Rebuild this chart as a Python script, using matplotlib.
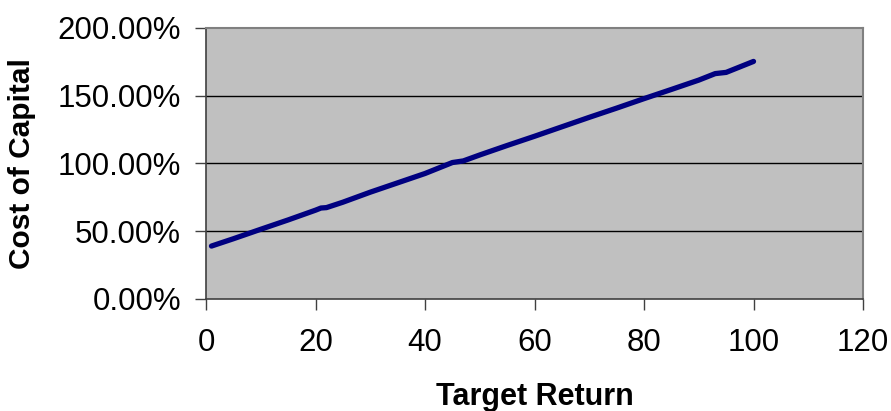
import numpy as np
import matplotlib.pyplot as plt
from matplotlib.ticker import FuncFormatter

# target return vs cost of capital (%)
target_return = [1, 5, 10, 15, 20, 21, 22, 25, 30, 35, 40, 45, 47, 50, 55,
                 60, 65, 70, 75, 80, 85, 90, 93, 95, 100]
cost_of_capital = [38.9, 44.3, 51.3, 58.2, 65.4, 67.0, 67.3, 71.3, 78.7, 85.6,
                   92.5, 100.6, 101.8, 106.2, 113.2, 120.0, 127.0, 134.0, 140.8,
                   147.8, 154.6, 161.5, 166.3, 167.2, 175.3]

x_ticks = [0, 20, 40, 60, 80, 100, 120]
y_ticks = [0, 50, 100, 150, 200]

plt.rcParams['font.family'] = ['Liberation Sans', 'DejaVu Sans']

fig = plt.figure(figsize=(8.91, 4.11), dpi=100)
ax = fig.add_axes([0.2312, 0.2732, 0.7374, 0.6587])
ax.set_facecolor('#C0C0C0')

for y in y_ticks[1:-1]:
    ax.axhline(y, color='black', lw=1.0, zorder=1)

ax.plot(target_return, cost_of_capital, color='#000080', lw=3.8,
        solid_capstyle='round', solid_joinstyle='round', zorder=3)

ax.set_xlim(0, 120)
ax.set_ylim(0, 200)
ax.set_xticks(x_ticks)
ax.set_yticks(y_ticks)
ax.yaxis.set_major_formatter(FuncFormatter(lambda v, p: '%.2f%%' % v))

for side in ['top', 'right']:
    ax.spines[side].set_color('#808080')
    ax.spines[side].set_linewidth(1.5)
for side in ['left', 'bottom']:
    ax.spines[side].set_color('#404040')
    ax.spines[side].set_linewidth(1.2)

ax.tick_params(axis='both', direction='out', length=8, width=1,
               color='#404040', labelsize=22.5)
ax.tick_params(axis='y', pad=10)
ax.tick_params(axis='x', pad=13)

fig.text(0.6002, 0.035, 'Target Return', ha='center', va='center',
         fontsize=22, fontweight='bold')
fig.text(0.025, 0.6025, 'Cost of Capital', ha='center', va='center',
         rotation=90, fontsize=21.5, fontweight='bold')

fig.savefig('out.png', dpi=100)
